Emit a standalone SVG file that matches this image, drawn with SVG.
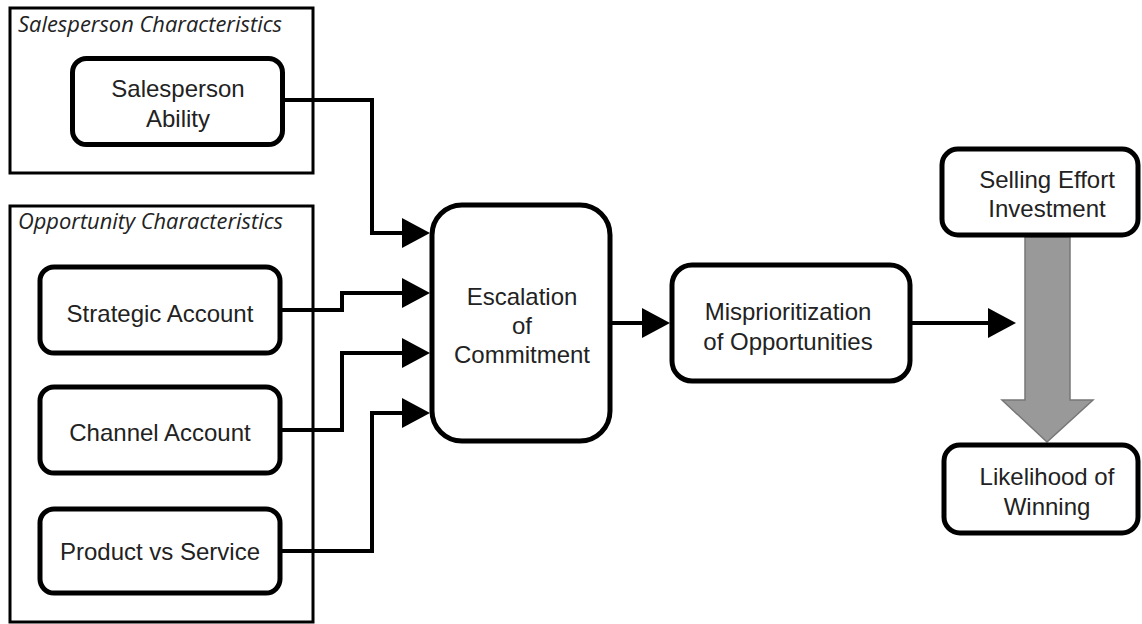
<svg xmlns="http://www.w3.org/2000/svg" width="1142" height="624" viewBox="0 0 1142 624">
<defs>
<style>
.grp{fill:#fff;stroke:#000;stroke-width:3}
.node{fill:#fff;stroke:#000;stroke-width:5}
.lbl{font-family:"Liberation Sans",Arial,sans-serif;font-size:24px;fill:#222;text-anchor:middle}
.cap{font-family:"Open Sans","DejaVu Sans",sans-serif;font-style:italic;font-size:21px;fill:#222}
.conn{fill:none;stroke:#000;stroke-width:4}
</style>
<marker id="ah" markerUnits="userSpaceOnUse" markerWidth="28" markerHeight="30" refX="0" refY="15" orient="auto">
<path d="M0,0 L28,15 L0,30 z" fill="#000"/>
</marker>
</defs>
<rect width="1142" height="624" fill="#fff"/>
<g id="salesperson-characteristics">
<rect class="grp" x="10" y="8" width="303" height="165"/>
<text class="cap" x="18" y="32" textLength="264" lengthAdjust="spacingAndGlyphs">Salesperson Characteristics</text>
</g>
<g id="opportunity-characteristics">
<rect class="grp" x="10" y="206" width="303" height="416"/>
<text class="cap" x="18" y="229" textLength="265" lengthAdjust="spacingAndGlyphs">Opportunity Characteristics</text>
</g>
<g id="connectors">
<path class="conn" d="M285,100 H372 V233 H402" marker-end="url(#ah)"/>
<path class="conn" d="M282,310 H342 V293 H402" marker-end="url(#ah)"/>
<path class="conn" d="M282,430 H342 V353 H402" marker-end="url(#ah)"/>
<path class="conn" d="M282,551 H372 V413 H402" marker-end="url(#ah)"/>
<path class="conn" d="M612,323 H642" marker-end="url(#ah)"/>
<path class="conn" d="M912,323 H988" marker-end="url(#ah)"/>
<polygon points="1025,237 1070,237 1070,400 1093,400 1047,442 1002,400 1025,400" fill="#999" stroke="#777" stroke-width="1.5"/>
</g>
<g id="salesperson-ability">
<rect class="node" x="72.5" y="58.5" width="210" height="86" rx="14"/>
<text class="lbl" x="178" y="97">Salesperson</text>
<text class="lbl" x="178" y="127">Ability</text>
</g>
<g id="strategic-account">
<rect class="node" x="40" y="267" width="240" height="86" rx="14"/>
<text class="lbl" x="160" y="322">Strategic Account</text>
</g>
<g id="channel-account">
<rect class="node" x="40" y="387" width="240" height="86" rx="14"/>
<text class="lbl" x="160" y="441">Channel Account</text>
</g>
<g id="product-vs-service">
<rect class="node" x="40" y="509" width="240" height="84" rx="14"/>
<text class="lbl" x="160" y="560">Product vs Service</text>
</g>
<g id="escalation">
<rect class="node" x="432" y="205" width="178" height="236" rx="30"/>
<text class="lbl" x="522" y="305">Escalation</text>
<text class="lbl" x="522" y="334">of</text>
<text class="lbl" x="522" y="363">Commitment</text>
</g>
<g id="misprioritization">
<rect class="node" x="672" y="265" width="238" height="116" rx="20"/>
<text class="lbl" x="788" y="320">Misprioritization</text>
<text class="lbl" x="788" y="350">of Opportunities</text>
</g>
<g id="selling-effort">
<rect class="node" x="942" y="149" width="196" height="86" rx="16"/>
<text class="lbl" x="1047" y="188">Selling Effort</text>
<text class="lbl" x="1047" y="217">Investment</text>
</g>
<g id="likelihood">
<rect class="node" x="944" y="445" width="194" height="88" rx="16"/>
<text class="lbl" x="1047" y="485">Likelihood of</text>
<text class="lbl" x="1047" y="515">Winning</text>
</g>
</svg>
